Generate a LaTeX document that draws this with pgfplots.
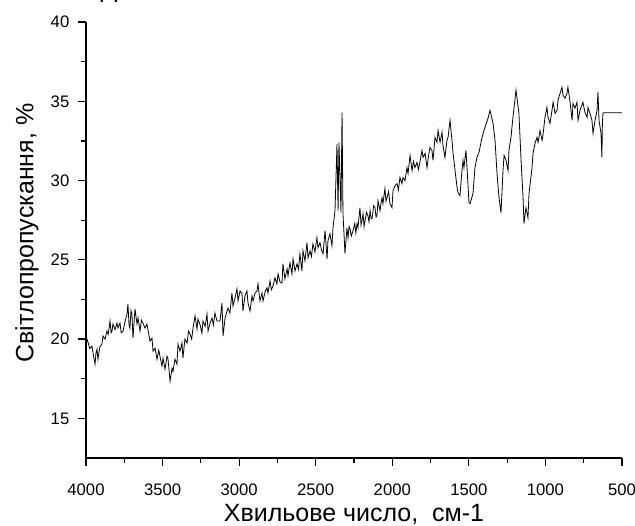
\documentclass[border=0pt]{standalone}
\usepackage{fontspec}
\setmainfont{Liberation Sans}
\usepackage{pgfplots}
\pgfplotsset{compat=1.18}
\begin{document}
\begin{tikzpicture}
\begin{axis}[
  scale only axis,
  width=402pt, height=327pt,
  x dir=reverse,
  xmin=500, xmax=4000,
  ymin=12.5, ymax=40,
  enlargelimits=false,
  axis x line*=bottom,
  axis y line*=left,
  axis line style={-, line width=1pt},
  xtick={500,1000,...,4000},
  ytick={15,20,...,40},
  minor x tick num=1,
  minor y tick num=1,
  tick align=outside,
  major tick length=6pt,
  minor tick length=4pt,
  every tick/.style={black, line width=0.9pt},
  /pgf/number format/assume math mode=true,
  /pgf/number format/1000 sep={},
  tick label style={font=\fontsize{12.5}{14}\selectfont},
  xticklabel style={yshift=-10pt},
  yticklabel style={xshift=-3pt},
  label style={font=\fontsize{18.75}{22}\selectfont},
  xlabel={Хвильове число,~~см-1},
  ylabel={Світлопропускання, \%},
  xlabel style={at={(axis description cs:0.5,-0.1445)}, anchor=base},
  ylabel style={at={(axis description cs:-0.110,0.516)}, anchor=center},
]
\addplot[black, line width=0.6pt] table {
4000 20.00
3993 20.00
3975 19.40
3961 19.56
3950 18.90
3941 18.42
3935 19.10
3928 19.37
3922 18.73
3910 19.50
3896 19.68
3889 20.19
3876 20.00
3863 20.51
3855 20.30
3843 21.14
3836 20.40
3830 20.51
3824 20.95
3810 20.60
3798 21.01
3791 20.70
3778 21.01
3770 20.40
3758 20.51
3745 21.10
3732 21.58
3726 22.22
3719 20.90
3713 20.70
3706 21.80
3700 21.58
3693 20.06
3680 21.90
3667 20.95
3660 21.33
3647 20.51
3638 21.20
3628 21.01
3615 20.70
3602 20.95
3590 20.30
3582 19.87
3569 20.06
3562 19.24
3549 19.43
3536 18.73
3525 19.30
3517 18.92
3504 18.29
3497 18.80
3484 18.10
3471 18.92
3465 18.80
3451 17.34
3438 18.16
3432 17.97
3419 18.73
3406 18.42
3399 19.68
3386 19.24
3373 19.75
3367 18.80
3354 20.00
3340 19.75
3330 20.50
3321 20.32
3310 20.00
3301 20.70
3288 21.46
3275 20.63
3269 21.27
3255 20.90
3243 20.38
3236 21.14
3222 20.80
3210 21.58
3203 20.51
3190 21.00
3177 21.33
3168 20.90
3158 21.65
3145 21.14
3125 21.14
3112 22.28
3105 20.19
3092 21.33
3073 21.96
3060 21.65
3047 22.91
3040 22.09
3027 22.59
3014 23.16
3007 22.41
2994 23.04
2981 22.85
2975 21.77
2962 22.72
2949 23.04
2942 22.28
2929 21.77
2916 22.72
2909 22.41
2896 22.90
2883 23.04
2877 23.48
2864 22.41
2851 22.91
2844 22.41
2830 23.00
2818 23.23
2812 22.91
2798 23.67
2790 23.10
2779 23.35
2766 23.86
2753 23.48
2746 24.11
2733 23.60
2720 23.54
2714 24.75
2701 23.80
2687 24.43
2681 23.99
2668 24.81
2655 24.11
2648 25.06
2635 24.30
2622 24.75
2612 24.40
2603 25.38
2590 24.30
2583 25.57
2570 24.94
2557 26.08
2550 25.13
2537 25.57
2528 25.20
2518 26.01
2505 25.50
2492 26.39
2485 25.76
2472 26.08
2462 25.60
2452 25.38
2439 26.84
2426 25.06
2420 26.20
2407 26.65
2394 25.89
2387 27.03
2374 28.10
2361 32.30
2354 28.10
2348 32.40
2335 28.00
2328 34.30
2322 27.90
2315 26.60
2309 25.40
2296 27.00
2289 26.39
2282 27.10
2276 26.96
2268 26.50
2256 26.84
2245 27.30
2238 26.70
2230 27.28
2224 27.03
2211 28.29
2204 27.20
2198 27.47
2191 27.91
2184 27.10
2178 27.47
2168 28.00
2159 27.78
2152 27.40
2145 28.10
2138 27.60
2132 27.59
2122 28.40
2113 28.29
2106 27.70
2100 27.78
2093 28.73
2080 28.10
2073 28.60
2067 28.92
2061 28.54
2048 29.49
2041 28.70
2034 28.92
2024 29.30
2015 28.54
2002 28.29
1995 29.37
1982 29.68
1969 29.81
1960 29.40
1950 30.19
1937 29.81
1930 30.19
1917 30.00
1904 30.82
1897 30.44
1884 31.58
1871 30.63
1862 31.20
1852 30.82
1839 31.14
1829 30.70
1819 31.20
1806 31.90
1799 31.46
1786 31.71
1773 30.82
1764 31.50
1754 32.09
1741 31.90
1734 31.27
1721 32.72
1708 32.41
1701 33.16
1688 32.41
1675 33.04
1669 32.22
1656 31.46
1643 32.53
1636 32.72
1623 33.80
1610 32.53
1603 31.71
1590 30.63
1577 29.56
1571 29.24
1558 29.05
1545 30.63
1538 31.27
1532 30.82
1519 31.90
1512 30.82
1499 28.61
1492 28.54
1473 29.18
1460 30.82
1447 31.46
1434 31.77
1414 32.72
1395 33.35
1375 33.92
1362 34.43
1342 33.61
1329 32.53
1316 30.44
1303 28.92
1290 27.97
1277 30.63
1270 31.58
1257 31.27
1244 30.63
1238 31.90
1225 32.72
1212 33.99
1192 35.70
1186 35.25
1173 34.24
1159 31.27
1146 28.92
1140 27.28
1127 28.29
1114 27.66
1107 29.18
1088 30.76
1081 31.71
1068 32.34
1055 32.72
1048 32.41
1035 33.16
1022 32.53
1016 32.85
1003 33.99
990 34.62
983 33.99
970 33.61
957 34.43
950 34.94
937 34.24
924 34.43
918 35.06
892 35.89
885 35.38
872 35.19
859 35.51
853 35.89
839 34.94
826 33.80
820 34.87
807 34.56
794 34.94
787 33.80
774 34.43
755 34.94
742 34.30
728 33.99
722 34.62
709 34.24
696 33.80
689 32.97
676 33.80
663 34.43
657 35.57
650 33.80
637 32.97
631 31.46
628 33.60
624 34.28
500 34.28
};
\end{axis}
\node[font=\fontsize{18.75}{22}\selectfont, anchor=base] at (17.25pt,345.5pt) {Д};
\pgfresetboundingbox
\useasboundingbox (-64.5pt,-50.25pt) rectangle (411.75pt,343.5pt);
\end{tikzpicture}
\end{document}
